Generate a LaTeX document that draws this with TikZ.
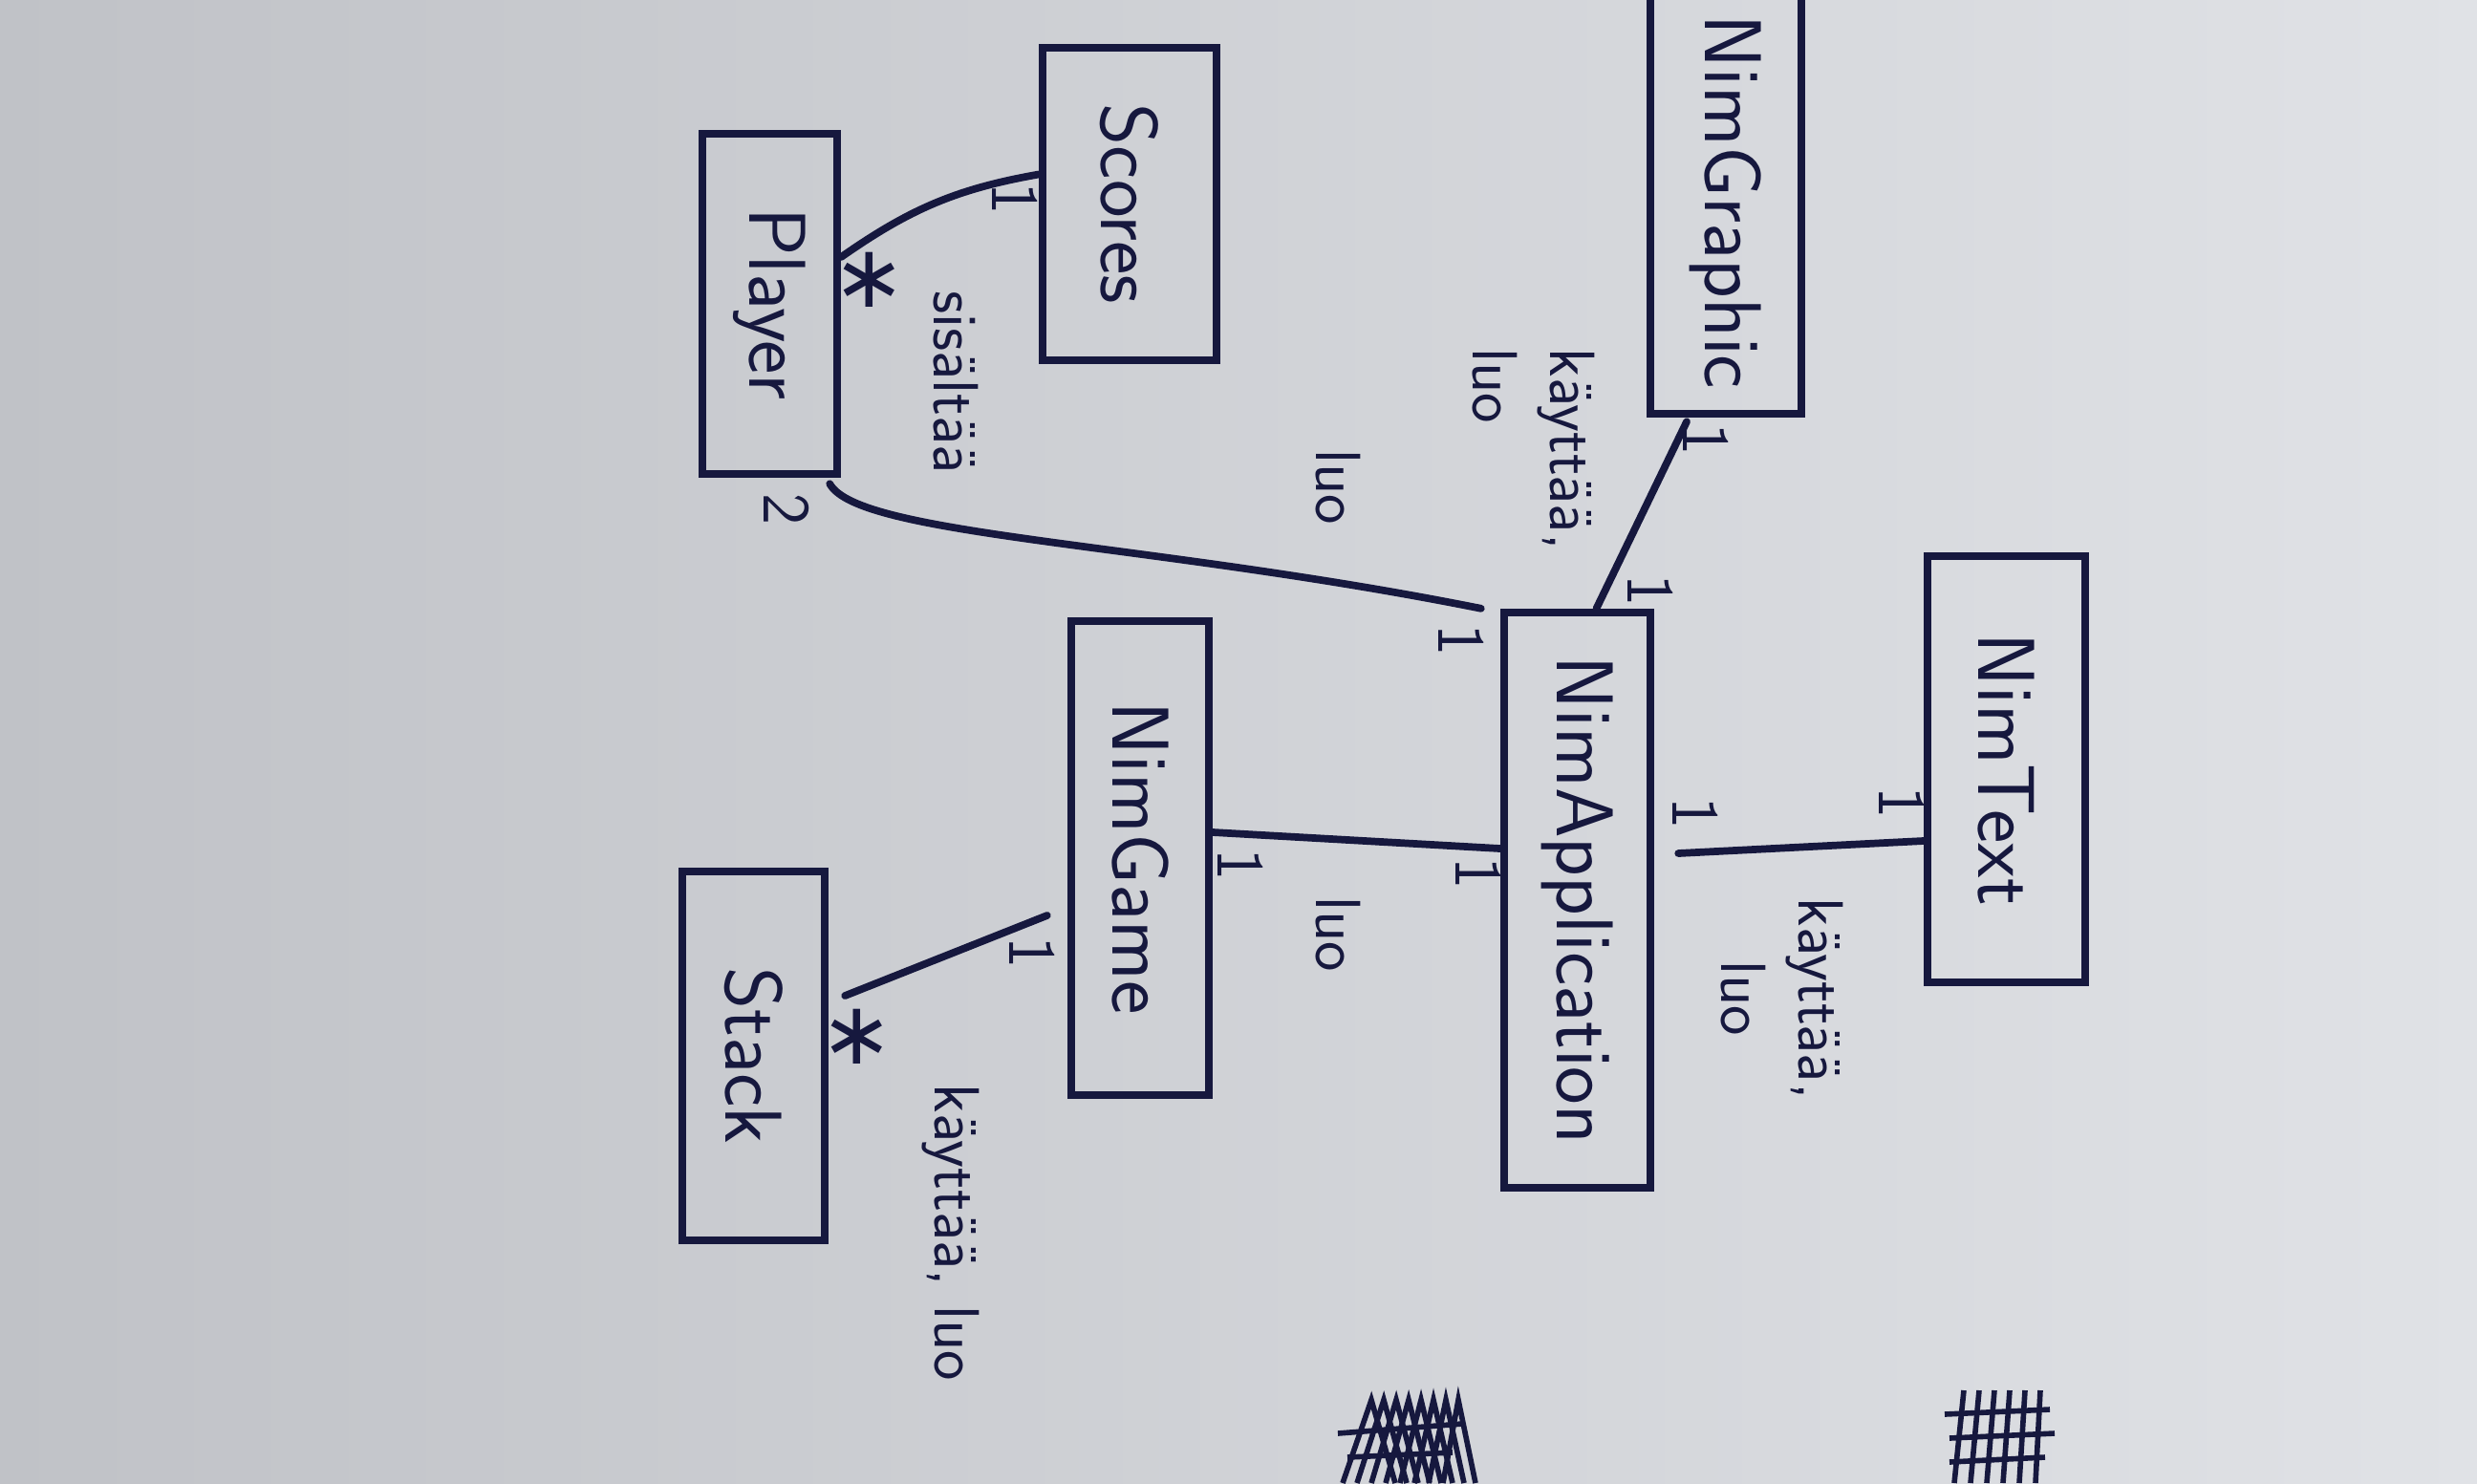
\documentclass[tikz,border=0pt]{standalone}
\usepackage{fontspec}
\newfontfamily\symfont{DejaVu Sans}
\usetikzlibrary{positioning}
\definecolor{ink}{RGB}{22,24,62}
\definecolor{paper}{RGB}{224,226,230}
\definecolor{paperdark}{RGB}{192,194,199}
\tikzset{
  klass/.style={draw=ink,line width=2.4pt,rotate=-90,inner sep=0pt,text=ink,
    font=\sffamily\fontsize{24}{28}\selectfont},
  lbl/.style={rotate=-90,text=ink,inner sep=0pt,
    font=\sffamily\fontsize{19}{23}\selectfont},
  mult/.style={rotate=-90,text=ink,inner sep=0pt,
    font=\sffamily\fontsize{20}{24}\selectfont},
  many/.style={text=ink,inner sep=0pt,font=\symfont\fontsize{26}{26}\selectfont},
  assoc/.style={draw=ink,line width=2.2pt,line cap=round},
}
\begin{document}
\begin{tikzpicture}
  % paper
  \useasboundingbox (0,0) rectangle (25.92,-15.52);
  \shade[left color=paperdark,right color=paper] (0,0) rectangle (25.92,-15.52);

  % classes
  \path
  (18.06,-2.115) node[klass,minimum width=4.43cm,minimum height=1.58cm] (graphic) {NimGraphic}
  (11.82,-2.135) node[klass,minimum width=3.27cm,minimum height=1.82cm] (scores) {Scores}
  (8.055,-3.18) node[klass,minimum width=3.56cm,minimum height=1.41cm] (player) {Player}
  (16.505,-9.42) node[klass,minimum width=6.02cm,minimum height=1.53cm] (app) {NimApplication}
  (20.995,-8.05) node[klass,minimum width=4.46cm,minimum height=1.65cm] (text) {NimText}
  (11.93,-8.98) node[klass,minimum width=4.96cm,minimum height=1.44cm] (game) {NimGame}
  (7.885,-11.05) node[klass,minimum width=3.86cm,minimum height=1.49cm] (stack) {Stack}
  ;

  % Player -- Scores
  \draw[assoc] ([yshift=0.49cm]player.north) to[out=35,in=190] ([yshift=0.31cm]scores.south);
  \node[many] (pmany) at (9.10,-2.93) {∗};
  \node[mult] (sone) at (10.62,-2.08) {1};
  \node[lbl] (contains) at (10.0,-4.0) {sisältää};

  % Player -- NimApplication
  \draw[assoc] ([xshift=-0.12cm,yshift=-0.06cm]player.north east)
    .. controls +(0.3,-0.55) and +(-3.5,0.7) .. ([xshift=-0.2cm]app.south west);
  \node[mult] (ptwo) at (8.23,-5.33) {2};
  \node[mult] (aone1) at (15.29,-6.70) {1};
  \node[lbl] (creates1) at (14.0,-5.1) {luo};

  % NimGraphic -- NimApplication
  \draw[assoc] ([xshift=-0.41cm,yshift=-0.04cm]graphic.east) -- ([xshift=0.2cm]app.west);
  \node[mult] (gone) at (17.85,-4.60) {1};
  \node[mult] (aone2) at (17.27,-6.18) {1};
  \node[lbl,align=left] (uses1) at (16.05,-4.7) {käyttää,\\luo};

  % NimGame -- NimApplication
  \draw[assoc] ([yshift=0.27cm]game.north) -- ([yshift=0.54cm]app.south);
  \node[mult] (mone) at (12.98,-9.05) {1};
  \node[mult] (aone3) at (15.47,-9.14) {1};
  \node[lbl] (creates2) at (14.0,-9.78) {luo};

  % NimApplication -- NimText
  \draw[assoc] ([xshift=0.25cm,yshift=0.49cm]app.north) -- ([yshift=-0.75cm]text.south);
  \node[mult] (aone4) at (17.74,-8.51) {1};
  \node[mult] (tone) at (19.90,-8.40) {1};
  \node[lbl,align=center] (uses2) at (18.65,-10.45) {käyttää,\\luo};

  % NimGame -- Stack
  \draw[assoc] ([xshift=-0.21cm,yshift=-0.60cm]game.south) -- ([xshift=0.17cm,yshift=0.63cm]stack.north);
  \node[mult] (mone2) at (10.80,-9.97) {1};
  \node[many] (smany) at (8.97,-10.85) {∗};
  \node[lbl] (uses3) at (9.95,-12.9) {käyttää, luo};

  % scribbles
  \foreach \i in {0,...,7}
    \draw[ink,line width=1.6pt] (14.05+0.15*\i,-15.52) -- (14.35+0.13*\i,-14.65) -- (14.6+0.12*\i,-15.52);
  \draw[ink,line width=1.6pt] (14.0,-15.0) -- (15.3,-14.9) (14.1,-15.25) -- (15.2,-15.2);
  \foreach \i in {0,...,5}
    \draw[ink,line width=1.6pt] (20.45+0.17*\i,-15.52) -- (20.55+0.16*\i,-14.55);
  \draw[ink,line width=1.6pt] (20.35,-14.8) -- (21.45,-14.75) (20.4,-15.05) -- (21.5,-15.0) (20.4,-15.3) -- (21.4,-15.25);
\end{tikzpicture}
\end{document}
